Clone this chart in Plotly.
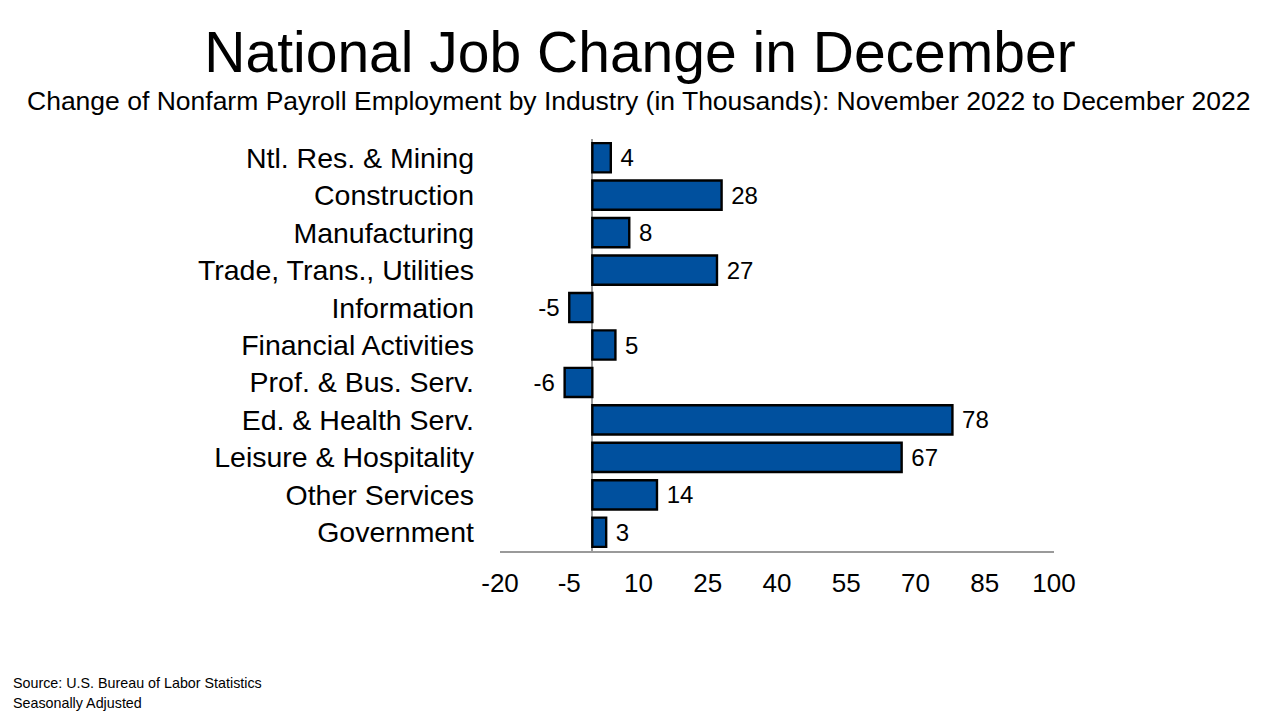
import plotly.graph_objects as go

categories = ["Ntl. Res. & Mining", "Construction", "Manufacturing", "Trade, Trans., Utilities",
              "Information", "Financial Activities", "Prof. & Bus. Serv.", "Ed. & Health Serv.",
              "Leisure & Hospitality", "Other Services", "Government"]
values = [4, 28, 8, 27, -5, 5, -6, 78, 67, 14, 3]
tick_vals = [-20, -5, 10, 25, 40, 55, 70, 85, 100]

FONT = "Liberation Sans, Arial, sans-serif"

# page is offset by the body margin (8px); layout numbers below are in figure pixels
L, R, T, B = 492, 234, 131, 177
W, H = 1280, 720
plot_h = H - T - B
plot_w = W - L - R


def py(ypix):
    return (H - B - ypix) / plot_h


def px(xpix):
    return (xpix - L) / plot_w


labels = [(" " + str(v)) if v >= 0 else (str(v) + " ") for v in values]

fig = go.Figure(go.Bar(
    y=categories, x=values, orientation="h",
    marker=dict(color="#00509E", line=dict(color="#000000", width=2.4)),
    text=labels, textposition="outside",
    textfont=dict(family=FONT, size=24, color="#000000"),
    cliponaxis=False,
))

fig.update_layout(
    width=W, height=H,
    paper_bgcolor="white", plot_bgcolor="white",
    margin=dict(l=L, r=R, t=T, b=B),
    bargap=0.22,
    showlegend=False,
    font=dict(family=FONT, color="#000000"),
    title=dict(text="National Job Change in December", x=632 / W, xanchor="center",
               y=1 - 44 / H, yanchor="middle", font=dict(size=57, family=FONT, color="#000000")),
    annotations=[
        dict(text="Change of Nonfarm Payroll Employment by Industry (in Thousands): November 2022 to December 2022",
             xref="paper", yref="paper", x=px(631), y=py(93), xanchor="center", yanchor="middle",
             showarrow=False, font=dict(size=26.5)),
        dict(text="Source: U.S. Bureau of Labor Statistics", xref="paper", yref="paper",
             x=px(3), y=py(675), xanchor="left", yanchor="middle", showarrow=False, font=dict(size=14.3)),
        dict(text="Seasonally Adjusted", xref="paper", yref="paper",
             x=px(3), y=py(695), xanchor="left", yanchor="middle", showarrow=False, font=dict(size=14.3)),
    ],
)

fig.update_xaxes(
    range=[-20, 100], tickvals=tick_vals, ticktext=[str(t) for t in tick_vals],
    showgrid=False, zeroline=True, zerolinecolor="#9a9a9a", zerolinewidth=1.5,
    showline=True, linecolor="#9a9a9a", linewidth=1.5,
    ticks="", tickfont=dict(size=26, family=FONT, color="#000000"),
    ticklabelstandoff=8,
)
fig.update_yaxes(
    autorange="reversed", showgrid=False, showline=False, ticks="",
    tickfont=dict(size=28.5, family=FONT, color="#000000"),
    ticklabelstandoff=25,
)

fig.write_html("out.html")
